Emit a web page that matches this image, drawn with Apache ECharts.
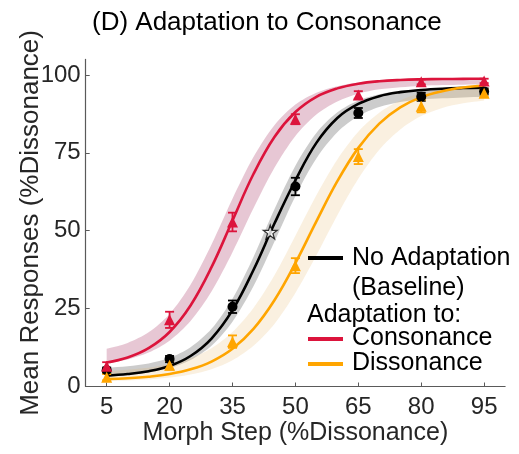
<!DOCTYPE html>
<html><head><meta charset="utf-8">
<script src="https://cdn.jsdelivr.net/npm/echarts@6/dist/echarts.min.js"></script>
<style>html,body{margin:0;padding:0;background:#fff}#c{width:519px;height:454px}</style>
</head><body><div id="c"></div>
<script>
// ---- data ----
const stepX = [5, 20, 35, 50, 65, 80, 95];
const xTicks = [5, 20, 35, 50, 65, 80, 95];
const yTicks = [0, 25, 50, 75, 100];

const consonance = [6.5, 21.4, 52.8, 85.8, 93.6, 97.8, 98.1];
const consErr    = [1.3, 2.6, 3.0, 1.6, 1.2, 0.8, 0.7];
const baseline   = [5.2, 8.8, 25.6, 64.2, 87.8, 93.0, 94.7];
const baseErr    = [0.9, 1.0, 2.0, 2.8, 1.6, 1.3, 1.0];
const dissonance = [3.0, 6.8, 14.4, 38.8, 73.8, 90.0, 94.1];
const dissErr    = [1.0, 1.4, 2.0, 2.4, 2.4, 2.0, 1.2];

// fitted curves and their shaded bands, read at these morph steps
const curveX  = [5, 10, 15, 20, 25, 30, 35, 40, 45, 50, 55, 60, 65, 70, 75, 80, 85, 90, 95];
const baseFit = [3.5, 4.0, 4.9, 6.6, 9.8, 15.4, 24.5, 37.4, 52.3, 66.2, 78.2, 86.2, 90.7, 93.2, 94.5, 95.2, 95.6, 95.8, 95.9];
const baseHi  = [6.0, 6.5, 7.4, 9.2, 12.6, 18.5, 28.2, 41.6, 56.9, 70.9, 81.4, 88.0, 91.8, 93.8, 94.9, 95.4, 95.7, 95.85, 95.9];
const baseLo  = [3.4, 3.8, 4.5, 5.9, 8.5, 13.1, 20.8, 32.2, 46.5, 61.1, 73.2, 81.6, 86.8, 89.7, 91.3, 92.1, 92.5, 92.8, 92.9];
const consFit = [7.7, 9.3, 12.3, 17.5, 26.0, 38.3, 53.3, 68.2, 80.1, 88.1, 93.0, 95.7, 97.2, 98.0, 98.4, 98.6, 98.7, 98.75, 98.8];
const consHi  = [12.1, 14.0, 17.4, 23.3, 32.7, 45.6, 60.3, 73.7, 83.9, 90.5, 94.3, 96.4, 97.6, 98.2, 98.5, 98.7, 98.8, 98.8, 98.8];
const consLo  = [7.45, 8.7, 10.9, 14.7, 21.0, 30.5, 43.1, 57.2, 70.2, 80.4, 87.3, 91.5, 94.0, 95.4, 96.1, 96.5, 96.75, 96.9, 96.95];
const dissFit = [2.4, 2.65, 3.15, 4.0, 5.5, 8.0, 12.1, 18.5, 27.7, 39.6, 53.0, 65.9, 76.6, 84.4, 89.6, 92.9, 94.8, 95.96, 96.6];
const dissHi  = [5.0, 5.4, 6.0, 7.2, 9.1, 12.3, 17.5, 25.2, 35.7, 48.4, 61.4, 72.9, 81.8, 87.9, 91.8, 94.2, 95.6, 96.4, 96.9];
const dissLo  = [1.75, 1.94, 2.27, 2.85, 3.85, 5.57, 8.44, 13.1, 20.1, 30.0, 42.1, 55.0, 66.7, 76.0, 82.5, 86.8, 89.4, 90.9, 91.8];

const pseX = [44];
const pseY = [49.6];

// ---- styles ----
const RED = '#DC143C', ORANGE = '#FFA500', BLACK = '#000000';
const FONT = 'Liberation Sans, Arial, Helvetica, sans-serif';
const TXT = '#262626';

const pairs = (xs, ys) => xs.map((x, i) => [x, ys[i]]);

function bandSeries(lo, hi, color, z) {
  return {
    type: 'custom', silent: true, z: z,
    data: [[0]],
    renderItem: function (params, api) {
      const up = curveX.map((x, i) => api.coord([x, hi[i]]));
      const dn = curveX.map((x, i) => api.coord([x, lo[i]])).reverse();
      const pts = [up[0]].concat(up, [up[up.length - 1]], [dn[0]], dn, [dn[dn.length - 1]]);
      return { type: 'polygon', shape: { points: pts, smooth: 0.3 }, style: { fill: color } };
    }
  };
}

function fitSeries(ys, color, z) {
  return { type: 'line', data: pairs(curveX, ys), smooth: 0.4, symbol: 'none', silent: true, z: z,
           lineStyle: { color: color, width: 2.6 } };
}

function errSeries(ys, es, color, z) {
  return {
    type: 'custom', silent: true, z: z,
    data: stepX.map((x, i) => [x, ys[i], es[i]]),
    renderItem: function (params, api) {
      const x = api.value(0), y = api.value(1), e = api.value(2);
      const a = api.coord([x, y + e]), b = api.coord([x, y - e]);
      const w = 4.5;
      const st = { stroke: color, lineWidth: 1.8 };
      return { type: 'group', children: [
        { type: 'line', shape: { x1: a[0], y1: a[1], x2: b[0], y2: b[1] }, style: st },
        { type: 'line', shape: { x1: a[0] - w, y1: a[1], x2: a[0] + w, y2: a[1] }, style: st },
        { type: 'line', shape: { x1: b[0] - w, y1: b[1], x2: b[0] + w, y2: b[1] }, style: st }
      ]};
    }
  };
}

function markSeries(ys, color, symbol, size, z) {
  return { type: 'scatter', data: pairs(stepX, ys), symbol: symbol, symbolSize: size, z: z, silent: true,
           itemStyle: { color: color, opacity: 1 } };
}

const starPath = 'path://M50,0 L61.8,35.1 L98.9,35.1 L68.9,56.9 L80.3,92 L50,70.3 L19.7,92 L31.1,56.9 L1.1,35.1 L38.2,35.1 Z';

const chart = echarts.init(document.getElementById('c'), null, { renderer: 'canvas' });
chart.setOption({
  animation: false,
  backgroundColor: '#ffffff',
  title: { text: '(D) Adaptation to Consonance', left: 87, top: 5,
           textStyle: { fontFamily: FONT, fontSize: 26, fontWeight: 'normal', color: '#000' } },
  grid: { left: 85.7, right: 13.9, top: 59.4, bottom: 67.5, outerBoundsMode: 'none' },
  xAxis: {
    type: 'value', min: 0, max: 100,
    name: 'Morph Step (%Dissonance)', nameLocation: 'middle', nameGap: 34, nameMoveOverlap: false,
    nameTextStyle: { fontFamily: FONT, fontSize: 25, color: TXT },
    axisLine: { show: true, onZero: false, lineStyle: { color: '#5a5a5a', width: 1.2 } },
    axisTick: { show: true, inside: true, length: 4, customValues: xTicks, lineStyle: { color: '#5a5a5a' } },
    axisLabel: { customValues: xTicks, fontFamily: FONT, fontSize: 24, color: TXT, margin: 9 },
    splitLine: { show: false }
  },
  yAxis: {
    type: 'value', min: 0, max: 105,
    name: 'Mean Responses (%Dissonance)', nameLocation: 'middle', nameGap: 42, nameRotate: 90, nameMoveOverlap: false,
    nameTextStyle: { fontFamily: FONT, fontSize: 26, color: TXT },
    axisLine: { show: true, onZero: false, lineStyle: { color: '#5a5a5a', width: 1.2 } },
    axisTick: { show: true, inside: true, length: 4, customValues: yTicks, lineStyle: { color: '#5a5a5a' } },
    axisLabel: { customValues: yTicks, fontFamily: FONT, fontSize: 24, color: TXT, margin: 5 },
    splitLine: { show: false }
  },
  series: [
    bandSeries(consLo, consHi, 'rgba(155,19,75,0.24)', 1),
    bandSeries(baseLo, baseHi, 'rgba(0,0,0,0.2)', 1),
    bandSeries(dissLo, dissHi, 'rgba(230,180,100,0.2)', 1),
    fitSeries(baseFit, BLACK, 3),
    fitSeries(consFit, RED, 3),
    fitSeries(dissFit, ORANGE, 3),
    errSeries(baseline, baseErr, BLACK, 4),
    markSeries(baseline, BLACK, 'circle', 10, 5),
    errSeries(consonance, consErr, RED, 4),
    markSeries(consonance, RED, 'triangle', 11, 5),
    errSeries(dissonance, dissErr, ORANGE, 4),
    markSeries(dissonance, ORANGE, 'triangle', 11, 5),
    { type: 'scatter', data: pairs(pseX, pseY), symbol: starPath, symbolSize: 14, z: 6, silent: true,
      itemStyle: { color: '#ffffff', borderColor: '#000', borderWidth: 1.2 } }
  ],
  graphic: [
    { type: 'line', shape: { x1: 308, y1: 258, x2: 343, y2: 258 }, style: { stroke: BLACK, lineWidth: 4 }, z: 10 },
    { type: 'text', x: 352, y: 258, style: { text: 'No Adaptation', font: '25px ' + FONT, fill: '#000', verticalAlign: 'middle' }, z: 10 },
    { type: 'text', x: 352, y: 288, style: { text: '(Baseline)', font: '25px ' + FONT, fill: '#000', verticalAlign: 'middle' }, z: 10 },
    { type: 'text', x: 307, y: 315, style: { text: 'Adaptation to:', font: '25px ' + FONT, fill: '#000', verticalAlign: 'middle' }, z: 10 },
    { type: 'line', shape: { x1: 308, y1: 339, x2: 343, y2: 339 }, style: { stroke: RED, lineWidth: 4 }, z: 10 },
    { type: 'text', x: 352, y: 338, style: { text: 'Consonance', font: '25px ' + FONT, fill: '#000', verticalAlign: 'middle' }, z: 10 },
    { type: 'line', shape: { x1: 308, y1: 364, x2: 343, y2: 364 }, style: { stroke: ORANGE, lineWidth: 4 }, z: 10 },
    { type: 'text', x: 352, y: 363, style: { text: 'Dissonance', font: '25px ' + FONT, fill: '#000', verticalAlign: 'middle' }, z: 10 }
  ]
});
</script></body></html>
